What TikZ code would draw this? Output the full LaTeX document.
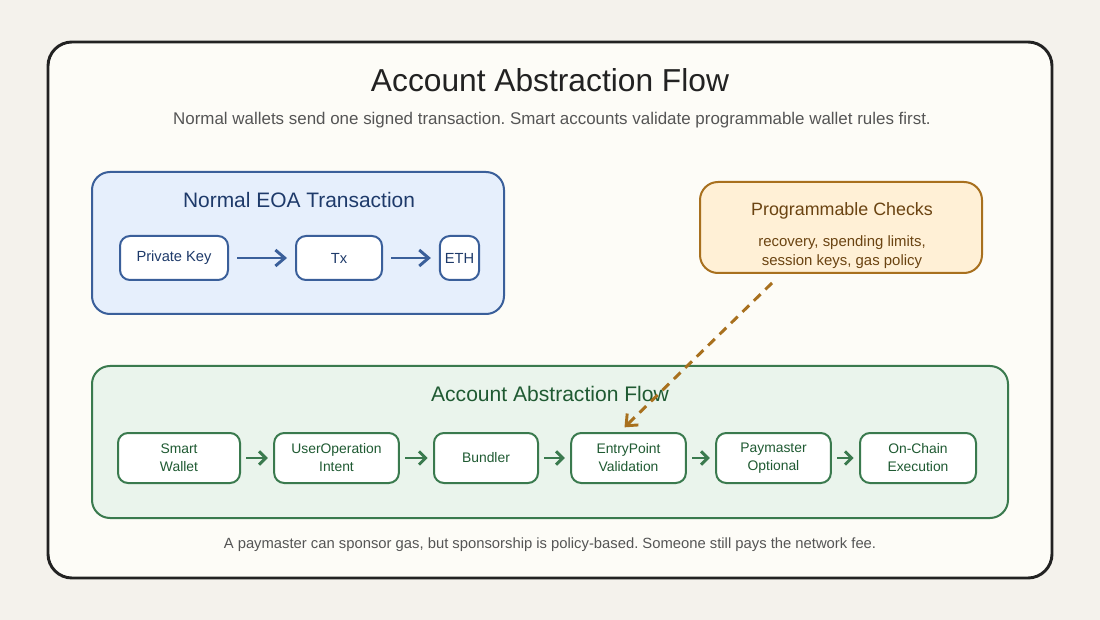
\documentclass[tikz,border=0pt]{standalone}
\usepackage{fontspec}
\setmainfont{Liberation Sans}
\usetikzlibrary{arrows.meta}
\frenchspacing
\definecolor{pagebg}{HTML}{F4F2EC}
\definecolor{cardbg}{HTML}{FDFCF7}
\definecolor{carddraw}{HTML}{222222}
\definecolor{bluefill}{HTML}{E6EFFC}
\definecolor{bluedraw}{HTML}{3A5F9A}
\definecolor{bluetext}{HTML}{1E3A6A}
\definecolor{orfill}{HTML}{FFF0D6}
\definecolor{ordraw}{HTML}{A8701E}
\definecolor{ortext}{HTML}{6B4412}
\definecolor{grfill}{HTML}{EAF4EC}
\definecolor{grdraw}{HTML}{3A7A4E}
\definecolor{grtext}{HTML}{1F5A32}
\definecolor{graytext}{HTML}{555555}
\begin{document}
\begin{tikzpicture}[x=0.75pt,y=-0.75pt,
  panel/.style={draw, line width=1.5pt, rounded corners=13.5pt},
  bnode/.style={draw=bluedraw, fill=white, line width=1.5pt, rounded corners=7.5pt, text=bluetext, font=\fontsize{11}{13}\selectfont, align=center, inner sep=0pt},
  gnode/.style={draw=grdraw, fill=white, line width=1.5pt, rounded corners=7.5pt, text=grtext, font=\fontsize{10.4}{13.5}\selectfont, align=center, inner sep=0pt, minimum height=37.5pt},
  barrow/.style={draw=bluedraw, line width=2.2pt, -{Straight Barb[length=7pt,width=12pt]}},
  garrow/.style={draw=grdraw, line width=2.2pt, -{Straight Barb[length=5pt,width=10pt]}}
]
\useasboundingbox (0,0) rectangle (1100,620);
\fill[pagebg] (0,0) rectangle (1100,620);
\draw[draw=carddraw, fill=cardbg, line width=2.2pt, rounded corners=18pt] (48,42) rectangle (1052,578);
\node[font=\fontsize{23.8}{27}\selectfont, text=carddraw] (title) at (550,80) {Account Abstraction Flow};
\node[font=\fontsize{12.7}{14}\selectfont, text=graytext] (subtitle) at (552,120) {Normal wallets send one signed transaction. Smart accounts validate programmable wallet rules first.};

% blue panel
\draw[panel, draw=bluedraw, fill=bluefill] (92,172) rectangle (504,314);
\node[font=\fontsize{15.7}{18}\selectfont, text=bluetext] (btitle) at (299,200) {Normal EOA Transaction};
\node[bnode, minimum width=81pt, minimum height=33pt] (pk) at (174,258) {Private Key};
\node[bnode, minimum width=64.5pt, minimum height=33pt] (tx) at (339,258) {Tx};
\node[bnode, minimum width=29.5pt, minimum height=33pt] (eth) at (459.5,258) {ETH};
\draw[barrow] ([xshift=6pt]pk.east) -- ([xshift=-6pt]tx.west);
\draw[barrow] ([xshift=6pt]tx.east) -- ([xshift=-6pt]eth.west);

% orange panel
\draw[panel, draw=ordraw, fill=orfill] (700,182) rectangle (982,273);
\node[font=\fontsize{13.4}{15}\selectfont, text=ortext] (otitle) at (842,211) {Programmable Checks};
\node[font=\fontsize{11.2}{14.5}\selectfont, text=ortext, align=center] (otext) at (842,252) {recovery, spending limits,\\session keys, gas policy};
\coordinate (dstart) at (772,283);

% green panel
\draw[panel, draw=grdraw, fill=grfill] (92,366) rectangle (1008,518);
\node[font=\fontsize{15.8}{18}\selectfont, text=grtext] (gtitle) at (550,394) {Account Abstraction Flow};
\node[gnode, minimum width=91.5pt] (sw) at (179,458) {Smart\\Wallet};
\node[gnode, minimum width=93.5pt] (uo) at (336.5,458) {UserOperation\\Intent};
\node[gnode, minimum width=78pt] (bu) at (486,458) {Bundler};
\node[gnode, minimum width=86pt] (ep) at (628.5,458) {EntryPoint\\Validation};
\node[gnode, minimum width=86pt] (pm) at (773.5,458) {Paymaster\\Optional};
\node[gnode, minimum width=87pt] (oc) at (918,458) {On-Chain\\Execution};
\draw[garrow] ([xshift=4pt]sw.east) -- ([xshift=-4pt]uo.west);
\draw[garrow] ([xshift=4pt]uo.east) -- ([xshift=-4pt]bu.west);
\draw[garrow] ([xshift=4pt]bu.east) -- ([xshift=-4pt]ep.west);
\draw[garrow] ([xshift=4pt]ep.east) -- ([xshift=-4pt]pm.west);
\draw[garrow] ([xshift=4pt]pm.east) -- ([xshift=-4pt]oc.west);

\draw[draw=ordraw, line width=2.2pt, dash pattern=on 7pt off 5pt, -{Straight Barb[length=7pt,width=12pt]}] (dstart) -- ([xshift=-3pt,yshift=3.5pt]ep.north);

\node[font=\fontsize{11.1}{13}\selectfont, text=graytext] (footer) at (550,545) {A paymaster can sponsor gas, but sponsorship is policy-based. Someone still pays the network fee.};
\end{tikzpicture}
\end{document}
